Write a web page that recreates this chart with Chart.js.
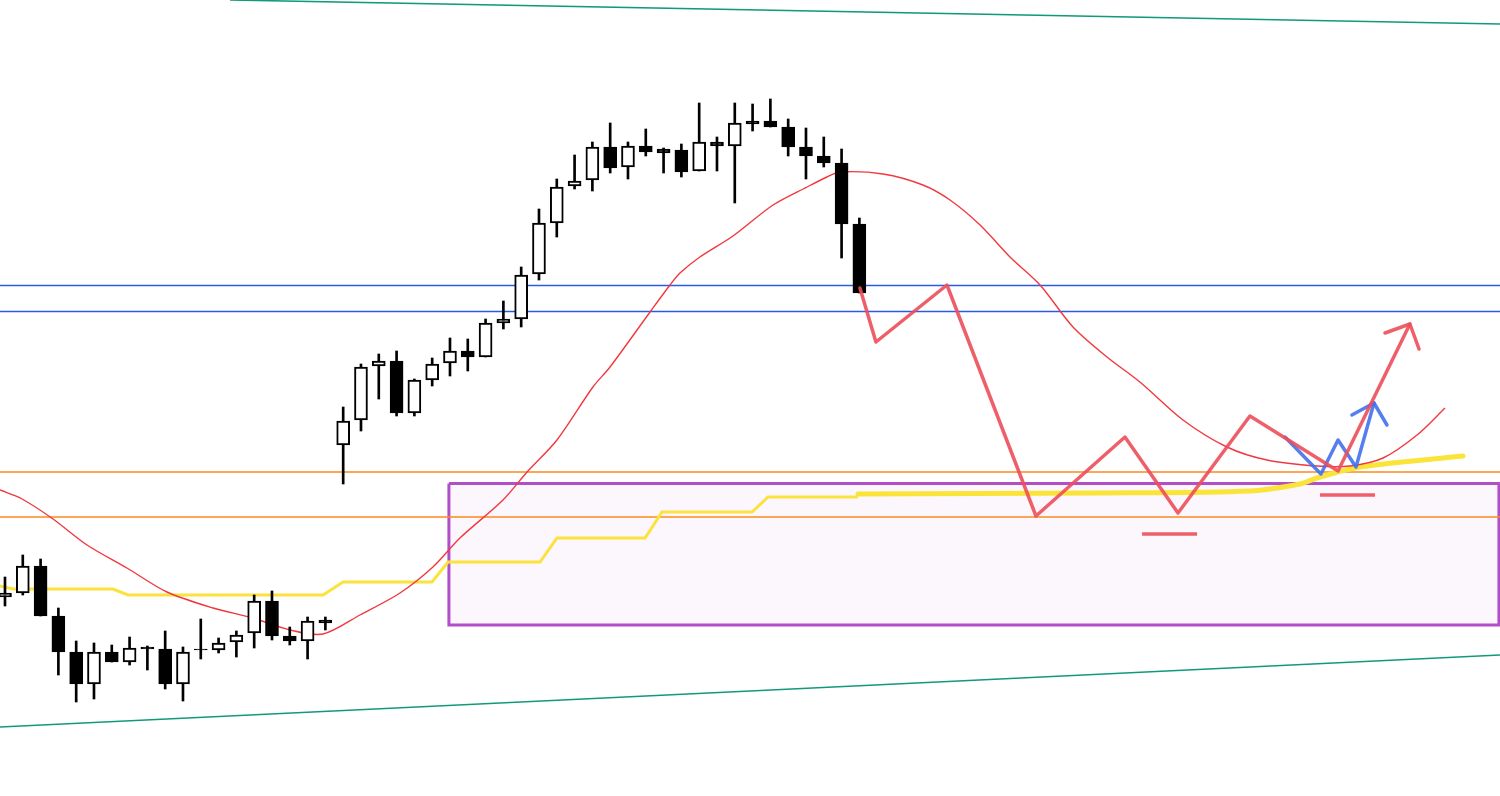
<!DOCTYPE html>
<html>
<head>
<meta charset="utf-8">
<script src="https://cdn.jsdelivr.net/npm/chart.js@4.4.1/dist/chart.umd.min.js"></script>
<style>
  html, body { margin: 0; padding: 0; background: #ffffff; }
  #grafico { display: block; }
</style>
</head>
<body>
<canvas id="grafico" width="1500" height="796"></canvas>
<script>
// Velas (OHLC), uma por barra
const abertura = [144.03, 144.07, 144.34, 143.84, 143.48, 143.16, 143.48, 143.38, 143.53, 143.51,
  143.16, 143.51, 143.50, 143.58, 143.67, 143.99, 143.64, 143.59, 143.80, 145.55,
  145.80, 146.34, 146.39, 145.87, 146.20, 146.37, 146.49, 146.43, 146.77, 146.81,
  147.26, 147.77, 148.14, 148.20, 148.53, 148.33, 148.54, 148.51, 148.50, 148.29,
  148.58, 148.54, 148.79, 148.79, 148.73, 148.53, 148.44, 148.37, 147.76];
const maxima = [144.23, 144.45, 144.41, 143.92, 143.59, 143.57, 143.55, 143.63, 143.54, 143.69,
  143.53, 143.81, 143.62, 143.69, 144.05, 144.09, 143.73, 143.83, 143.83, 145.93,
  146.36, 146.46, 146.49, 146.21, 146.42, 146.62, 146.61, 146.81, 146.99, 147.33,
  147.91, 148.21, 148.45, 148.58, 148.77, 148.58, 148.71, 148.52, 148.56, 148.97,
  148.63, 148.97, 148.96, 149.01, 148.81, 148.72, 148.63, 148.51, 147.82];
const minimas = [143.94, 144.05, 143.84, 143.25, 142.98, 143.01, 143.38, 143.35, 143.30, 143.11,
  142.99, 143.41, 143.47, 143.43, 143.52, 143.60, 143.55, 143.41, 143.70, 145.16,
  145.69, 146.01, 145.84, 145.84, 146.14, 146.24, 146.29, 146.43, 146.71, 146.73,
  147.20, 147.63, 148.11, 148.09, 148.27, 148.21, 148.44, 148.27, 148.23, 148.29,
  148.29, 147.97, 148.69, 148.73, 148.44, 148.21, 148.33, 147.42, 147.07];
const fechamento = [144.07, 144.34, 143.84, 143.48, 143.16, 143.48, 143.38, 143.52, 143.51, 143.16,
  143.48, 143.50, 143.57, 143.65, 143.99, 143.64, 143.59, 143.79, 143.77, 145.79,
  146.33, 146.39, 145.87, 146.20, 146.36, 146.49, 146.43, 146.77, 146.81, 147.25,
  147.77, 148.13, 148.19, 148.53, 148.32, 148.54, 148.48, 148.47, 148.28, 148.58,
  148.54, 148.77, 148.76, 148.73, 148.53, 148.44, 148.37, 147.76, 147.07];

// Média móvel (vermelha fina), incluindo a projeção à direita
const mediaX = [-0.28, 0.96, 2.70, 4.61, 6.85, 9.10, 11.69, 13.93, 16.01, 17.87,
  19.94, 22.19, 24.04, 25.56, 27.98, 29.33, 31.01, 33.03, 33.99, 36.24,
  37.36, 37.92, 39.04, 40.90, 43.15, 45.06, 46.18, 46.91, 49.33, 51.57,
  53.09, 54.78, 56.46, 58.15, 60.00, 61.91, 63.76, 66.18, 68.65, 70.90,
  73.71, 75.56, 77.42, 79.33, 80.90];
const mediaY = [145.10, 145.01, 144.81, 144.55, 144.32, 144.08, 143.92, 143.82, 143.70, 143.66,
  143.85, 144.07, 144.33, 144.62, 145.00, 145.28, 145.60, 146.13, 146.33, 146.88,
  147.15, 147.27, 147.43, 147.64, 147.95, 148.13, 148.23, 148.28, 148.26, 148.15,
  148.00, 147.75, 147.43, 147.15, 146.73, 146.43, 146.18, 145.80, 145.53, 145.40,
  145.34, 145.34, 145.42, 145.65, 145.92];

// Linha amarela em degraus e continuação desenhada à mão
const degrauX = [-0.28, 0.45, 6.07, 6.91, 17.87, 18.99, 23.99, 24.89, 30.06, 31.01, 35.96, 36.91, 41.97, 42.87, 47.92];
const degrauY = [144.14, 144.11, 144.11, 144.05, 144.05, 144.18, 144.18, 144.38, 144.38, 144.62, 144.62, 144.88, 144.88, 145.03, 145.03];
const amareloX = [47.92, 61.52, 69.94, 72.75, 73.71, 76.12, 81.91];
const amareloY = [145.06, 145.07, 145.09, 145.16, 145.22, 145.33, 145.44];

// Níveis horizontais
const niveisAzuis = [147.145, 146.885];
const niveisLaranja = [145.28, 144.83];

// Zona roxa: início/fim e topo/fundo
const zonaX = [24.94, 83.93];
const zonaY = [145.165, 143.75];

// Linhas de tendência verdes
const tendTopoX = [12.64, 83.99], tendTopoY = [150.00, 149.76];
const tendBaseX = [-0.28, 83.99], tendBaseY = [142.73, 143.45];

// Cenário desenhado (zigue-zague vermelho e azul)
const zigVermX = [48.03, 48.93, 52.92, 57.92, 62.92, 65.90, 69.94, 74.89, 78.93];
const zigVermY = [147.12, 146.58, 147.15, 144.84, 145.63, 144.87, 145.84, 145.29, 146.76];
const pontaVermX = [77.53, 78.93, 79.44], pontaVermY = [146.67, 146.76, 146.51];
const zigAzulX = [71.91, 73.93, 74.89, 75.90, 76.91];
const zigAzulY = [145.63, 145.26, 145.60, 145.33, 145.97];
const pontaAzulX = [75.67, 76.91, 77.64], pontaAzulY = [145.85, 145.97, 145.75];
const marcasX = [[63.88, 66.97], [73.88, 76.97]];
const marcasY = [144.66, 145.05];

const limitesX = [-0.28, 83.99];
const limitesY = [142.04, 150.00];

const pares = (xs, ys) => xs.map((x, i) => ({ x, y: ys[i] }));
const xMax = limitesX[1];

const linha = (data, cor, largura, ordem, extra = {}) => ({
  type: 'line', data, borderColor: cor, borderWidth: largura,
  pointRadius: 0, tension: 0, fill: false, order: ordem, ...extra
});

const alta = abertura.map((a, i) => fechamento[i] >= a);

const datasets = [
  // anotações por cima
  linha(pares(zigVermX, zigVermY), 'rgba(236,78,90,0.9)', 3.5, 0, { borderCapStyle: 'round', borderJoinStyle: 'round' }),
  linha(pares(pontaVermX, pontaVermY), 'rgba(236,78,90,0.9)', 3.5, 0, { borderCapStyle: 'round', borderJoinStyle: 'round' }),
  linha(pares(zigAzulX, zigAzulY), 'rgba(66,112,236,0.9)', 3.5, 1, { borderCapStyle: 'round', borderJoinStyle: 'round' }),
  linha(pares(pontaAzulX, pontaAzulY), 'rgba(66,112,236,0.9)', 3.5, 1, { borderCapStyle: 'round', borderJoinStyle: 'round' }),
  ...marcasX.map((mx, i) => linha(pares(mx, [marcasY[i], marcasY[i]]), 'rgba(236,78,90,0.9)', 3.5, 0)),
  // velas
  {
    type: 'bar', order: 2, grouped: false, barThickness: 13,
    data: abertura.map((a, i) => ({ x: i, y: [a, fechamento[i]] })),
    backgroundColor: alta.map(b => b ? '#ffffff' : '#000000'),
    borderColor: '#000000', borderWidth: 2, borderSkipped: false
  },
  {
    type: 'bar', order: 3, grouped: false, barThickness: 2,
    data: minimas.map((m, i) => ({ x: i, y: [m, maxima[i]] })),
    backgroundColor: '#000000', borderWidth: 0
  },
  linha(pares(mediaX, mediaY), '#f0393f', 1.4, 4, { tension: 0.3 }),
  linha(pares(degrauX, degrauY), '#fbe23c', 3, 5),
  linha(pares(amareloX, amareloY), '#fbe43a', 5, 5, { tension: 0.3, borderCapStyle: 'round' }),
  ...niveisAzuis.map(v => linha(pares(limitesX, [v, v]), '#2a5ae6', 1.5, 6)),
  ...niveisLaranja.map(v => linha(pares(limitesX, [v, v]), '#fb8a1c', 1.5, 6)),
  linha(pares(tendTopoX, tendTopoY), '#119a78', 1.6, 7),
  linha(pares(tendBaseX, tendBaseY), '#119a78', 1.6, 7),
  // zona roxa: contorno e preenchimento
  linha([
    { x: zonaX[0], y: zonaY[0] }, { x: zonaX[1], y: zonaY[0] }, { x: zonaX[1], y: zonaY[1] },
    { x: zonaX[0], y: zonaY[1] }, { x: zonaX[0], y: zonaY[0] }
  ], '#b24fc8', 3, 8, { borderJoinStyle: 'miter' }),
  linha(pares(zonaX, [zonaY[0], zonaY[0]]), 'rgba(0,0,0,0)', 0, 9, {
    fill: { value: zonaY[1] }, backgroundColor: '#fcf7fd'
  })
];

new Chart(document.getElementById('grafico'), {
  type: 'bar',
  data: { datasets },
  options: {
    responsive: false,
    animation: false,
    events: [],
    layout: { padding: 0 },
    plugins: { legend: { display: false }, tooltip: { enabled: false } },
    scales: {
      x: { type: 'linear', min: limitesX[0], max: xMax, offset: false, display: false },
      y: { type: 'linear', min: limitesY[0], max: limitesY[1], display: false }
    }
  }
});
</script>
</body>
</html>
